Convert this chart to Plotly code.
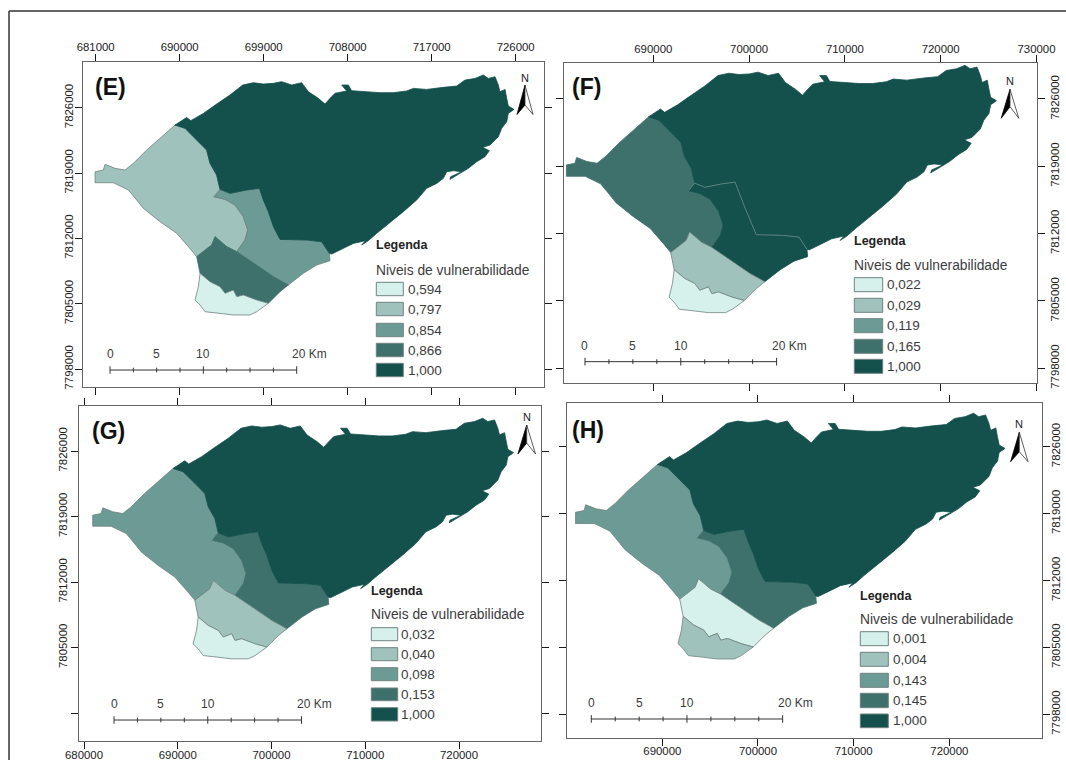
import plotly.graph_objects as go

FONT = "Liberation Sans"
PALETTE = ["#d6f0eb", "#a0c2bc", "#6c9a95", "#3e716c", "#14504c"]
EDGE = "#6f8380"

# Municipal zones in map coordinates (UTM metres)
zone_a_e = [689500,690750,691180,692540,693960,695390,696750,697890,698960,700040,700930,702000,703070,703790,704860,705570,706110,706640,707890,707360,708070,708430,710040,711460,712890,714320,715040,716460,718250,719680,720570,721640,722540,723070,723790,724140,724320,724860,725040,725210,725820,725210,725040,724500,724140,723250,722460,723180,722710,721820,720930,718960,719040,720210,719320,718610,718250,717540,716460,715390,713960,712360,711110,710210,709500,709900,708610,707540,706290,706040,705210,703610,702180,700750,700040,699500,698960,698540,697180,695390,694320,693960,693250,692890,692000,691110,690570,689500]
zone_a_n = [7824140,7824960,7824610,7825390,7826390,7827360,7828430,7828680,7828540,7828610,7828790,7828430,7828680,7827710,7827000,7826390,7827000,7827540,7827790,7828430,7828430,7827820,7827710,7827610,7827610,7827790,7828070,7827960,7828180,7828320,7828960,7829140,7829500,7829140,7829320,7828430,7827710,7827960,7827000,7826180,7825820,7825390,7824500,7823790,7822890,7822000,7821750,7821390,7820750,7820210,7819500,7818320,7818610,7819140,7819250,7819140,7818430,7817890,7817360,7816110,7814860,7813610,7812540,7811750,7811290,7811750,7811460,7810930,7810320,7810390,7811640,7811820,7811820,7811890,7813250,7814860,7816110,7817360,7817180,7816820,7817250,7818790,7820040,7821460,7822360,7823250,7823790,7824140]

zone_b_e = [689500,690570,691110,692000,692890,693250,693960,694320,693680,694860,695930,696820,697290,697000,696110,695040,693790,693430,691820,690930,689680,687890,686110,685390,684500,682890,680930,680930,681820,682000,683070,684140,685040,686460,687890,689500]
zone_b_n = [7824140,7823790,7823250,7822360,7821460,7820040,7818790,7817250,7816460,7816180,7815570,7814320,7812890,7811820,7810570,7811110,7812180,7811290,7810040,7811110,7812540,7813790,7815210,7816110,7817180,7817960,7817960,7819140,7819320,7819930,7819500,7819320,7820040,7821460,7822710,7824140]

zone_c_e = [698540,699500,700750,703610,705210,706040,706110,704680,703250,701640,700040,698250,696110,697000,697290,696820,695930,694860,693680,694320,695390,697180,698540]
zone_c_n = [7817360,7814860,7811890,7811820,7811640,7810390,7809610,7809140,7808250,7807000,7807890,7809140,7810570,7811820,7812890,7814320,7815570,7816180,7816460,7817250,7816820,7817180,7817360]

zone_d_e = [691820,693430,693790,695040,696110,698250,700040,701640,700750,699500,698250,696820,696110,695750,694860,694320,693250,692180,692000,691820]
zone_d_n = [7810040,7811290,7812180,7811110,7810570,7809140,7807890,7807000,7806290,7805040,7805390,7805930,7805750,7806460,7806110,7806820,7807360,7808250,7809320,7810040]

zone_s_e = [692180,693250,694320,694860,695750,696110,696820,698250,699500,698250,697540,695750,694320,692710,692180,691640,691820,692000,692180]
zone_s_n = [7808250,7807360,7806820,7806110,7806460,7805750,7805930,7805390,7805040,7804140,7803790,7803790,7803960,7804140,7804860,7805390,7806110,7806820,7808250]

# Colour class (index into PALETTE) of each zone per panel, zones ordered a, b, c, d, s
panel_names = ["(E)", "(F)", "(G)", "(H)"]
zone_classes = [[4, 1, 2, 3, 0], [4, 3, 4, 1, 0], [4, 2, 3, 1, 0], [4, 2, 3, 0, 1]]
legend_values = [
    ["0,594", "0,797", "0,854", "0,866", "1,000"],
    ["0,022", "0,029", "0,119", "0,165", "1,000"],
    ["0,032", "0,040", "0,098", "0,153", "1,000"],
    ["0,001", "0,004", "0,143", "0,145", "1,000"],
]
x_ticks = [
    [681000, 690000, 699000, 708000, 717000, 726000],
    [690000, 700000, 710000, 720000, 730000],
    [680000, 690000, 700000, 710000, 720000],
    [690000, 700000, 710000, 720000],
]
y_ticks = [7798000, 7805000, 7812000, 7819000, 7826000]
y_labels = [
    ["7798000", "7805000", "7812000", "7819000", "7826000"],
    ["7798000", "7805000", "7812000", "7819000", "7826000"],
    ["", "7805000", "7812000", "7819000", "7826000"],
    ["7798000", "7805000", "7812000", "7819000", "7826000"],
]
scale_km = [0, 2.5, 5, 7.5, 10, 12.5, 15, 17.5, 20]
scale_labels = [0, 5, 10]

# Layout (pixels in the 1066x760 page)
W, H = 1066, 760
frames = [(82.7, 62, 544, 387), (564, 63.3, 1037.3, 383.3), (79, 405.7, 541, 741), (567.3, 403.3, 1041.7, 737.7)]
x_ranges = [(679607, 729034), (680680, 730084), (679467, 728747), (680070, 729657)]
y_ranges = [(7796071, 7830897), (7796441, 7829711), (7795008, 7830841), (7795552, 7830541)]
x_side = ["top", "top", "bottom", "bottom"]
y_side = ["left", "right", "left", "right"]
x_standoff = [-2, -2, -4, -5]
y_standoff = [-3, 0, -1, -4]
scale_origin = [(682536, 7797890), (682870, 7798690), (683200, 7797250), (682580, 7797510)]
label_pos = [(110, 87.3), (586.7, 86.7), (108.3, 430.7), (588.3, 430)]
legend_left = [376.3, 854.3, 371.3, 860.3]
legend_right = [403.3, 882.7, 397.7, 888.3]
legend_text_x = [407.7, 886.7, 400.7, 892.7]
legend_title_y = [245.3, 240.7, 590.7, 595.7]
legend_sub_y = [270, 265.3, 614, 619]
legend_rows = [
    [(282.3, 295.7), (302.3, 315.7), (323.3, 336.7), (343.3, 356.7), (363.3, 376.7)],
    [(277.7, 291.7), (298.3, 312.3), (318.7, 332.7), (339.3, 353.3), (359.3, 373.3)],
    [(627.7, 640.7), (647.7, 660.7), (667.7, 680.7), (688, 700.7), (707.7, 721)],
    [(631.7, 645.7), (652.3, 666.3), (673.3, 687.3), (693.3, 707.7), (714, 727.7)],
]
north = [  # centre x, N y, tip y, notch y, base y, half width
    (525, 77.7, 85, 105, 114.5, 8),
    (1010, 81, 89.3, 106.7, 118.3, 8.8),
    (526.7, 417.3, 425, 443, 454, 8.8),
    (1019.3, 424.3, 432.3, 451.7, 461.7, 8.7),
]


def px(x):
    return x / W


def py(y):
    return 1 - y / H


zones = [
    (zone_a_e, zone_a_n), (zone_b_e, zone_b_n), (zone_c_e, zone_c_n),
    (zone_d_e, zone_d_n), (zone_s_e, zone_s_n),
]
zone_order = [1, 2, 3, 4, 0]

fig = go.Figure()
shapes = []
annotations = []
layout_axes = {}


def text(x, y, s, size=13.8, bold=False, color="#3c3c3c", anchor="left"):
    annotations.append(dict(
        x=px(x), y=py(y), xref="paper", yref="paper", text=f"<b>{s}</b>" if bold else s,
        showarrow=False, xanchor=anchor, yanchor="middle", borderpad=0, borderwidth=0,
        font=dict(family=FONT, size=size, color=color),
    ))


for p in range(4):
    suffix = "" if p == 0 else str(p + 1)
    xa, ya = "x" + suffix, "y" + suffix
    l, t, r, b = frames[p]

    for z in zone_order:
        cls = zone_classes[p][z]
        ex, ny = zones[z]
        line_col = PALETTE[4] if cls == 4 else (PALETTE[3] if cls == 3 else EDGE)
        fig.add_trace(go.Scatter(
            x=ex, y=ny, xaxis=xa, yaxis=ya, mode="lines", fill="toself",
            fillcolor=PALETTE[cls], line=dict(color=line_col, width=0.8),
            hoverinfo="skip", showlegend=False,
        ))
    if p == 1:
        # visible boundary between the two darkest zones of panel F
        fig.add_trace(go.Scatter(
            x=zone_c_e[-5:-1] + zone_c_e[:6], y=zone_c_n[-5:-1] + zone_c_n[:6], xaxis=xa, yaxis=ya, mode="lines",
            line=dict(color="#6f918d", width=0.8), hoverinfo="skip", showlegend=False,
        ))

    # scale bar
    ox, oy = scale_origin[p]
    fig.add_trace(go.Scatter(
        x=[ox + k * 1000 for k in (scale_km[0], scale_km[-1])], y=[oy, oy], xaxis=xa, yaxis=ya,
        mode="lines", line=dict(color="#333333", width=1), hoverinfo="skip", showlegend=False,
    ))
    for k in scale_km:
        half = 400 if k % 10 == 0 else 250
        fig.add_trace(go.Scatter(
            x=[ox + k * 1000] * 2, y=[oy - half, oy + half], xaxis=xa, yaxis=ya,
            mode="lines", line=dict(color="#333333", width=1), hoverinfo="skip", showlegend=False,
        ))
    for k in scale_labels:
        annotations.append(dict(
            x=ox + k * 1000, y=oy, xref=xa, yref=ya, text=str(k), showarrow=False, yshift=16,
            xanchor="center", yanchor="middle", font=dict(family=FONT, size=12, color="#3c3c3c"),
        ))
    annotations.append(dict(
        x=ox + 20000, y=oy, xref=xa, yref=ya, text="20 Km", showarrow=False, yshift=16, xshift=-7,
        xanchor="left", yanchor="middle", font=dict(family=FONT, size=12, color="#3c3c3c"),
    ))

    # axes
    layout_axes["xaxis" + suffix] = dict(
        domain=[px(l), px(r)], range=list(x_ranges[p]), anchor=ya, side=x_side[p], automargin=False,
        tickvals=x_ticks[p], ticktext=[str(v) for v in x_ticks[p]], ticks="outside", ticklen=7,
        tickwidth=1.4, tickcolor="#1a1a1a", showline=True, linecolor="#666666", linewidth=1.3,
        mirror="ticks", showgrid=False, zeroline=False, tickangle=0, ticklabelstandoff=x_standoff[p],
        tickfont=dict(family=FONT, size=11.4, color="#222222"),
    )
    layout_axes["yaxis" + suffix] = dict(
        domain=[py(b), py(t)], range=list(y_ranges[p]), anchor=xa, side=y_side[p], automargin=False,
        tickvals=y_ticks, ticktext=y_labels[p], ticks="outside", ticklen=7,
        tickwidth=1.4, tickcolor="#1a1a1a", showline=True, linecolor="#666666", linewidth=1.3,
        mirror="ticks", showgrid=False, zeroline=False, tickangle=-90, ticklabelstandoff=y_standoff[p],
        tickfont=dict(family=FONT, size=11.4, color="#222222"),
    )

    # panel letter
    text(label_pos[p][0], label_pos[p][1], panel_names[p], size=23, bold=True, color="#111111", anchor="center")

    # legend
    text(legend_left[p], legend_title_y[p], "Legenda", size=12.5, bold=True, color="#222222")
    text(legend_left[p], legend_sub_y[p], "Niveis de vulnerabilidade", size=13.8)
    for i, (y0, y1) in enumerate(legend_rows[p]):
        shapes.append(dict(
            type="rect", xref="paper", yref="paper", x0=px(legend_left[p]), x1=px(legend_right[p]),
            y0=py(y1), y1=py(y0), fillcolor=PALETTE[i], line=dict(color="#6f8380", width=1),
        ))
        text(legend_text_x[p], (y0 + y1) / 2, legend_values[p][i], size=13.5)

    # north arrow
    cx, ny_, tip, notch, base, hw = north[p]
    text(cx, ny_, "N", size=11, color="#222222", anchor="center")
    shapes.append(dict(
        type="path", xref="paper", yref="paper",
        path=f"M {px(cx)} {py(tip)} L {px(cx - hw)} {py(base)} L {px(cx)} {py(notch)} Z",
        fillcolor="#000000", line=dict(color="#000000", width=0.8),
    ))
    shapes.append(dict(
        type="path", xref="paper", yref="paper",
        path=f"M {px(cx)} {py(tip)} L {px(cx + hw)} {py(base)} L {px(cx)} {py(notch)} Z",
        fillcolor="#ffffff", line=dict(color="#333333", width=0.8),
    ))

# outer frame of the whole figure
for x0, y0, x1, y1 in [(9, 11, W, 11), (9, 11, 9, H)]:
    shapes.append(dict(
        type="line", xref="paper", yref="paper", x0=px(x0), y0=py(y0), x1=px(x1), y1=py(y1),
        line=dict(color="#333333", width=1.5),
    ))

fig.update_layout(
    width=W, height=H, margin=dict(l=0, r=0, t=0, b=0, pad=0), paper_bgcolor="white", plot_bgcolor="white",
    showlegend=False, shapes=shapes, annotations=annotations, **layout_axes,
)
fig.write_html("out.html", config={"displayModeBar": False},
               post_script="document.body.style.margin='0';document.body.style.overflow='hidden';")
